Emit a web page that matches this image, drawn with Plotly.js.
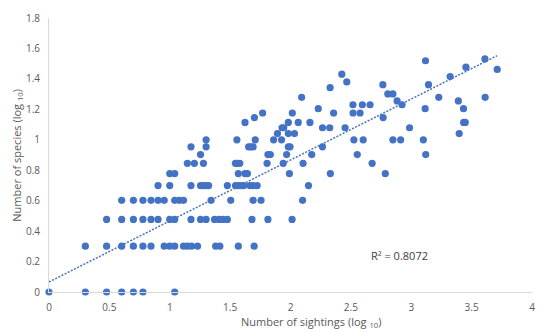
<!DOCTYPE html>
<html>
<head>
<meta charset="utf-8">
<script src="https://cdn.plot.ly/plotly-3.0.1.min.js"></script>
<style>html,body{margin:0;padding:0;background:#fff;}#chart{width:550px;height:332px;}</style>
</head>
<body>
<div id="chart"></div>
<script>
// Rows of points grouped by species level (log10)
const row0    = [0, 0.301, 0.477, 0.602, 0.699, 0.778, 1.041];
const row0301 = [0.301, 0.477, 0.602, 0.699, 0.778, 0.845, 0.954, 1.0, 1.041, 1.114, 1.146, 1.18, 1.23, 1.38, 1.415, 1.568, 1.699];
const row0477 = [0.477, 0.602, 0.699, 0.778, 0.845, 0.903, 1.0, 1.041, 1.176, 1.255, 1.301, 1.371, 1.408, 1.44, 1.477, 1.681, 1.813, 2.013];
const row0602 = [0.602, 0.699, 0.778, 0.845, 0.903, 0.954, 1.041, 1.079, 1.114, 1.342, 1.505, 1.69, 1.756, 2.1];
const row0699 = [0.903, 1.0, 1.176, 1.255, 1.279, 1.301, 1.322, 1.477, 1.544, 1.568, 1.591, 1.613, 1.663, 1.69, 1.724, 2.149];
const row0778 = [1.0, 1.041, 1.568, 1.623, 1.643, 1.991, 2.33, 2.785];
const row0845 = [1.146, 1.204, 1.279, 1.544, 1.556, 1.58, 1.806, 1.94, 2.104, 2.676];
const row0903 = [1.255, 1.813, 1.833, 1.968, 2.176, 2.553, 3.12];
const row0954 = [1.176, 1.301, 1.653, 1.672, 1.69, 1.982, 1.996, 2.265];
const row1000 = [1.301, 1.556, 1.708, 1.86, 1.926, 2.525, 2.602, 2.848, 2.912, 3.1];
const row1041 = [1.892, 1.982, 2.033, 3.397];
const row1079 = [1.93, 1.944, 2.265, 2.325, 2.452, 2.986];
const row1114 = [1.623, 1.982, 2.064, 2.161, 3.434, 3.447];
const row1146 = [1.701, 2.767];
const row1176 = [1.769, 2.015, 2.357, 2.518, 2.576];
const row1204 = [2.23, 3.115, 3.433];
const row1230 = [2.517, 2.595, 2.659, 2.924];
const row1255 = [2.883, 3.39];
const row1279 = [2.092, 3.228, 3.612];
const row1301 = [2.806, 2.848];
const row1342 = [2.328];
const row1362 = [2.765, 3.143];
const row1380 = [2.466];
const row1415 = [3.322];
const row1431 = [2.425];
const row1462 = [3.712];
const row1477 = [3.453];
const row1519 = [3.118];
const row1531 = [3.61];

const speciesLevels = [0, 0.301, 0.477, 0.602, 0.699, 0.778, 0.845, 0.903, 0.954, 1.0, 1.041, 1.079, 1.114, 1.146, 1.176, 1.204, 1.23, 1.255, 1.279, 1.301, 1.342, 1.362, 1.38, 1.415, 1.431, 1.462, 1.477, 1.519, 1.531];
const sightingRows = [row0, row0301, row0477, row0602, row0699, row0778, row0845, row0903, row0954, row1000, row1041, row1079, row1114, row1146, row1176, row1204, row1230, row1255, row1279, row1301, row1342, row1362, row1380, row1415, row1431, row1462, row1477, row1519, row1531];

// Linear trendline endpoints
const trendX = [0, 3.71];
const trendY = [0.066, 1.552];

const xTickVals = [0, 0.5, 1, 1.5, 2, 2.5, 3, 3.5, 4];
const xTickText = ["0", "0.5", "1", "1.5", "2", "2.5", "3", "3.5", "4"];
const yTickVals = [0, 0.2, 0.4, 0.6, 0.8, 1, 1.2, 1.4, 1.6, 1.8];
const yTickText = ["0", "0.2", "0.4", "0.6", "0.8", "1", "1.2", "1.4", "1.6", "1.8"];

const xs = [], ys = [];
sightingRows.forEach((r, i) => r.forEach(v => { xs.push(v); ys.push(speciesLevels[i]); }));

const font = "Open Sans, Liberation Sans, sans-serif";

const traces = [
  {x: trendX, y: trendY, mode: 'lines', type: 'scatter',
   line: {color: '#4472C4', width: 1.5, dash: '2px,1.5px'}, hoverinfo: 'skip', cliponaxis: false},
  {x: xs, y: ys, mode: 'markers', type: 'scatter',
   marker: {color: '#4472C4', size: 7.2}, cliponaxis: false}
];

const layout = {
  width: 550, height: 332,
  margin: {l: 49, r: 18.3, t: 18.3, b: 40.3},
  paper_bgcolor: '#fff', plot_bgcolor: '#fff',
  showlegend: false,
  font: {family: font, color: '#595959', size: 10},
  xaxis: {range: [0, 4], tickvals: xTickVals, ticktext: xTickText, showgrid: false, zeroline: false,
          showline: true, linecolor: '#d9d9d9', linewidth: 1, ticks: '', ticklabelstandoff: 6,
          tickfont: {family: font, size: 10, color: '#595959'}},
  yaxis: {range: [0, 1.8], tickvals: yTickVals, ticktext: yTickText, showgrid: false, zeroline: false,
          showline: true, linecolor: '#d9d9d9', linewidth: 1, ticks: '', ticklabelstandoff: 6,
          tickfont: {family: font, size: 10, color: '#595959'}},
  annotations: [
    {xref: 'paper', yref: 'paper', x: (311 - 49) / 482.7, y: -(321.7 - 291.7) / 273.4, text: 'Number of sightings (log <sub>10</sub>)',
     showarrow: false, xanchor: 'center', yanchor: 'middle', font: {family: font, size: 11, color: '#595959'}},
    {xref: 'paper', yref: 'paper', x: -(49 - 16.7) / 482.7, y: 0.5, text: 'Number of species (log <sub>10</sub>)',
     showarrow: false, textangle: -90, xanchor: 'center', yanchor: 'middle', font: {family: font, size: 11, color: '#595959'}},
    {xref: 'x', yref: 'y', x: 2.9, y: 0.241, text: 'R² = 0.8072', showarrow: false,
     xanchor: 'center', yanchor: 'middle', font: {family: font, size: 11, color: '#404040'}}
  ]
};

Plotly.newPlot('chart', traces, layout, {staticPlot: true, displayModeBar: false});
</script>
</body>
</html>
